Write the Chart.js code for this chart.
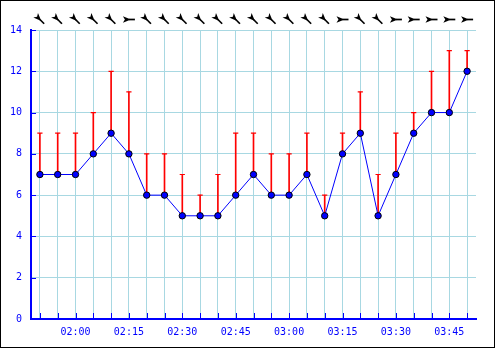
<!DOCTYPE html>
<html>
<head>
<meta charset="utf-8">
<script src="https://cdn.jsdelivr.net/npm/chart.js@4"></script>
<style>
  html, body { margin: 0; padding: 0; background: #fff; }
  #wrap { width: 493px; height: 346px; border: 1px solid #000; background: #fff; }
  canvas { display: block; }
</style>
</head>
<body>
<div id="wrap"><canvas id="c" width="493" height="346"></canvas></div>
<script>
// ---- data ----
const times = ['01:50','01:55','02:00','02:05','02:10','02:15','02:20','02:25','02:30','02:35',
               '02:40','02:45','02:50','02:55','03:00','03:05','03:10','03:15','03:20','03:25',
               '03:30','03:35','03:40','03:45','03:50'];
const shownTimes = ['02:00','02:15','02:30','02:45','03:00','03:15','03:30','03:45'];
const speed = [7,7,7,8,9,8,6,6,5,5,5,6,7,6,6,7,5,8,9,5,7,9,10,10,12];
const gust  = [9,9,9,10,12,11,8,8,7,6,7,9,9,8,8,9,6,9,11,7,9,10,12,13,13];
const direction = [315,315,315,315,315,270,315,315,315,315,315,315,315,315,315,315,315,270,315,315,270,270,270,270,270];
const yMin = 0, yMax = 14, yStep = 2;

const BLUE = '#0000ff';
const GRID = '#a8d8e2';
const FONT = { family: 'DejaVu Sans Mono', size: 10 };

// ticks drawn inside the plot, as in the reference
const innerTicks = {
  id: 'innerTicks',
  beforeDatasetsDraw(chart) {
    const { ctx, chartArea: a, scales: { x, y } } = chart;
    ctx.save();
    ctx.strokeStyle = BLUE;
    ctx.lineWidth = 1;
    ctx.beginPath();
    y.ticks.forEach(t => {
      const py = Math.round(y.getPixelForValue(t.value)) + 0.5;
      ctx.moveTo(a.left, py); ctx.lineTo(a.left + 5, py);
    });
    x.ticks.forEach((t, i) => {
      const px = Math.round(x.getPixelForTick(i)) + 0.5;
      ctx.moveTo(px, a.bottom); ctx.lineTo(px, a.bottom - 6);
    });
    ctx.stroke();
    ctx.restore();
  }
};

// wind direction arrows above the plot
const windArrows = {
  id: 'windArrows',
  afterDraw(chart) {
    const { ctx, chartArea: a, scales: { x } } = chart;
    const yc = a.top - 10.5;
    ctx.save();
    ctx.fillStyle = '#000';
    ctx.strokeStyle = '#000';
    direction.forEach((d, i) => {
      const xc = x.getPixelForValue(i);
      ctx.save();
      ctx.translate(xc, yc);
      ctx.rotate((d - 270) * Math.PI / 180);
      ctx.beginPath();
      ctx.moveTo(2, 0);
      ctx.lineTo(-6, -3.3);
      ctx.lineTo(-4, 0);
      ctx.lineTo(-6, 3.3);
      ctx.closePath();
      ctx.fill();
      ctx.lineWidth = 1.7;
      ctx.beginPath();
      ctx.moveTo(0, 0);
      ctx.lineTo(6, 0);
      ctx.stroke();
      ctx.restore();
    });
    ctx.restore();
  }
};

new Chart(document.getElementById('c'), {
  type: 'line',
  data: {
    labels: times,
    datasets: [
      {
        type: 'line',
        label: 'speed',
        data: speed,
        borderColor: BLUE,
        borderWidth: 1,
        backgroundColor: BLUE,
        pointBackgroundColor: BLUE,
        pointBorderColor: '#000',
        pointBorderWidth: 1,
        pointRadius: 3.2,
        tension: 0,
        order: 0
      },
      {
        type: 'line',
        label: 'gust cap',
        data: gust,
        showLine: false,
        pointStyle: 'line',
        pointRadius: 2.6,
        pointBorderColor: '#ff0000',
        pointBorderWidth: 1.2,
        borderColor: '#ff0000',
        order: 1
      },
      {
        type: 'bar',
        label: 'gust',
        data: speed.map((s, i) => [s, gust[i]]),
        backgroundColor: '#ff0000',
        borderWidth: 0,
        barThickness: 1,
        order: 2
      }
    ]
  },
  options: {
    responsive: false,
    animation: false,
    events: [],
    layout: { padding: { left: 0, right: 18, top: 29, bottom: 0 } },
    plugins: { legend: { display: false }, tooltip: { enabled: false } },
    scales: {
      x: {
        type: 'category',
        offset: true,
        grid: { offset: false, color: GRID, lineWidth: 1, drawTicks: false },
        border: { display: true, color: BLUE, width: 2 },
        ticks: {
          color: BLUE, font: FONT, padding: 7,
          autoSkip: false, maxRotation: 0, minRotation: 0,
          callback: (v, i) => shownTimes.includes(times[i]) ? times[i] : ''
        },
        afterFit: s => { s.height = 28; }
      },
      y: {
        min: yMin, max: yMax,
        grid: { color: GRID, lineWidth: 1, drawTicks: false },
        border: { display: true, color: BLUE, width: 2 },
        ticks: { stepSize: yStep, color: BLUE, font: FONT, padding: 9 },
        afterFit: s => { s.width = 30; }
      }
    }
  },
  plugins: [innerTicks, windArrows]
});
</script>
</body>
</html>
